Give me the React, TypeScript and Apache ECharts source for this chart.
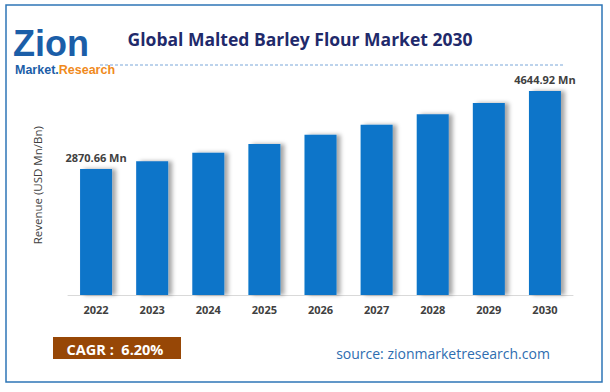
import React, { useEffect, useRef } from "react";
import * as echarts from "echarts";

const years = ["2022", "2023", "2024", "2025", "2026", "2027", "2028", "2029", "2030"];
const revenue = [2870.66, 3049, 3238, 3438, 3651, 3877, 4118, 4373, 4644.92];
const labelled: Record<number, string> = { 0: "2870.66 Mn", 8: "4644.92 Mn" };
const titleText = "Global Malted Barley Flour Market 2030";
const cagrText = "CAGR :  6.20%";
const sourceText = "source: zionmarketresearch.com";

const FONT = "'Open Sans', 'Noto Sans', sans-serif";

export default function App() {
  const ref = useRef<HTMLDivElement>(null);
  useEffect(() => {
    const chart = echarts.init(ref.current!, null, { renderer: "svg" });
    chart.setOption({
      animation: false,
      backgroundColor: "#ffffff",
      grid: { left: 68, right: 37, top: 75.5, bottom: 97 },
      xAxis: {
        type: "category",
        data: years,
        axisLine: { lineStyle: { color: "#d9d9d9", width: 1 } },
        axisTick: { show: false },
        axisLabel: { color: "#404040", fontSize: 11, fontWeight: "bold", fontFamily: FONT, margin: 9 },
      },
      yAxis: {
        type: "value",
        min: 0,
        max: 5000,
        splitLine: { show: false },
        axisLine: { show: false },
        axisTick: { show: false },
        axisLabel: { show: false },
        name: "Revenue (USD Mn/Bn)",
        nameLocation: "middle",
        nameGap: 25,
        nameRotate: 90,
        nameTextStyle: { color: "#404040", fontSize: 11.5, fontFamily: FONT },
      },
      series: [
        {
          type: "bar",
          data: revenue,
          barWidth: 32,
          itemStyle: {
            color: "#0a74c9",
            shadowColor: "rgba(0,0,0,0.35)",
            shadowBlur: 4,
            shadowOffsetX: 4,
            shadowOffsetY: 0,
          },
          label: {
            show: true,
            position: "top",
            distance: 6,
            color: "#404040",
            fontWeight: "bold",
            fontSize: 11,
            fontFamily: FONT,
            formatter: (p: any) => labelled[p.dataIndex] ?? "",
          },
        },
      ],
      graphic: [
        {
          type: "rect",
          shape: { x: 6, y: 5, width: 596, height: 377 },
          style: { fill: "none", stroke: "#2e75b6", lineWidth: 1.5 },
          silent: true,
        },
        {
          type: "line",
          shape: { x1: 100, y1: 65, x2: 563, y2: 65 },
          style: { stroke: "#7aa7d9", lineWidth: 1, lineDash: [3, 2] },
        },
        {
          type: "text",
          x: 300,
          y: 39,
          style: {
            text: titleText,
            fill: "#1f2a6b",
            font: `bold 17.5px ${FONT}`,
            align: "center",
            verticalAlign: "middle",
          },
        },
        {
          type: "text",
          x: 13,
          y: 43,
          style: {
            text: "Zion",
            fill: "#1b5ea8",
            font: `bold 36px 'Liberation Sans', sans-serif`,
            align: "left",
            verticalAlign: "middle",
          },
        },
        {
          type: "text",
          x: 15,
          y: 70,
          style: {
            rich: {
              m: { fill: "#1b5ea8", font: `bold 12.5px 'Liberation Sans', sans-serif` },
              r: { fill: "#f08a1c", font: `bold 12.5px 'Liberation Sans', sans-serif` },
            },
            text: "{m|Market.}{r|Research}",
            verticalAlign: "middle",
          },
        },
        {
          type: "rect",
          shape: { x: 53, y: 337, width: 128, height: 22 },
          style: { fill: "#974706" },
        },
        {
          type: "text",
          x: 115,
          y: 349,
          style: {
            text: cagrText,
            fill: "#ffffff",
            font: `bold 14.5px ${FONT}`,
            align: "center",
            verticalAlign: "middle",
          },
        },
        {
          type: "text",
          x: 443,
          y: 353,
          style: {
            text: sourceText,
            fill: "#2e6db0",
            font: `14px ${FONT}`,
            align: "center",
            verticalAlign: "middle",
          },
        },
      ],
    });
    return () => chart.dispose();
  }, []);
  return (
    <div
      ref={ref}
      style={{ position: "fixed", left: 0, top: 0, width: 610, height: 392 }}
    />
  );
}
